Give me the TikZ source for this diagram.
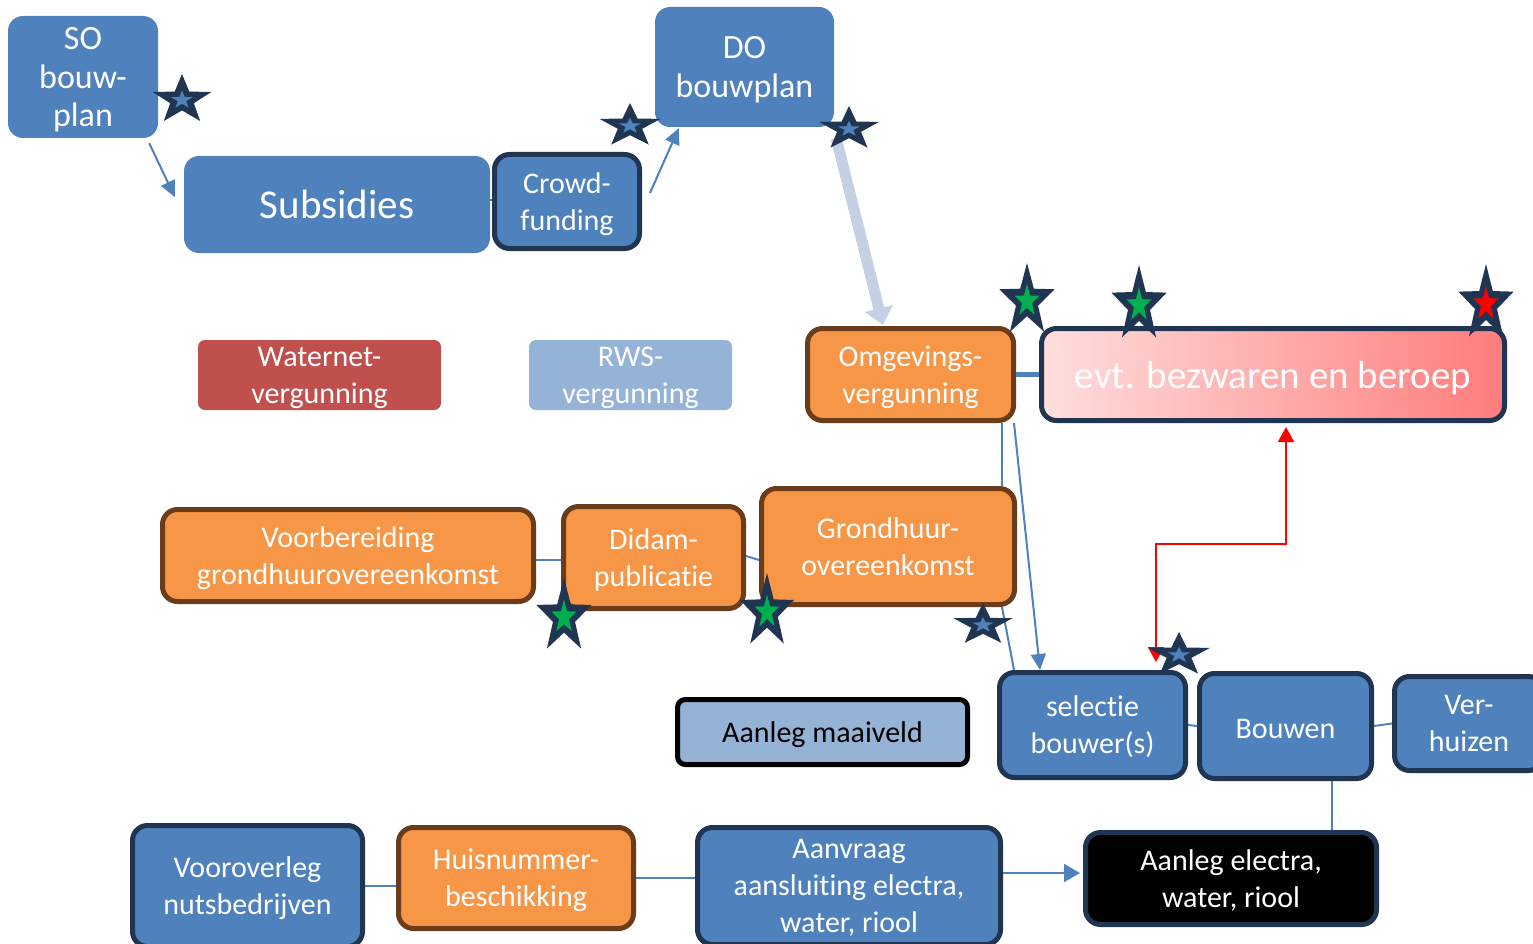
\documentclass[tikz,border=0pt]{standalone}
\usepackage{fontspec}
\setmainfont{Carlito}[Ligatures=NoCommon]
\usetikzlibrary{arrows.meta}
\definecolor{bxblue}{HTML}{4F81BD}
\definecolor{navy}{HTML}{1F3552}
\definecolor{orng}{HTML}{F79646}
\definecolor{brwn}{HTML}{6A3D1A}
\definecolor{wred}{HTML}{C0504D}
\definecolor{lblue}{HTML}{95B3D7}
\definecolor{thickarr}{HTML}{C6D0E4}
\definecolor{stgreen}{HTML}{00B050}
\definecolor{pinkL}{HTML}{FFDEDE}
\definecolor{pinkR}{HTML}{FF7C7C}
\tikzset{
 starp/.style={insert path={(90:1) -- (126:0.4) -- (162:1) -- (198:0.4) -- (234:1) -- (270:0.4) -- (306:1) -- (342:0.4) -- (18:1) -- (54:0.4) -- cycle}},
 base/.style={rounded corners=15pt, inner sep=0pt, align=center, text=white, text depth=0pt, font=\fontsize{30}{37}\selectfont},
 bluebox/.style={base, fill=bxblue},
 navybox/.style={base, fill=bxblue, draw=navy, line width=5pt},
 orangebox/.style={base, fill=orng, draw=brwn, line width=5pt},
 conn/.style={draw=bxblue, line width=2pt},
 tipA/.style={-{Triangle[length=16pt,width=15pt]}},
}
\newcommand\mystar[6]{\begin{scope}[shift={(#1,#2)},x=#3pt,y=#4pt]
 \fill[navy, starp];
 \begin{scope}[scale=#6]\fill[#5, starp];\end{scope}
\end{scope}}
\begin{document}
\begin{tikzpicture}[x=1pt,y=-1pt]
\useasboundingbox (0,0) rectangle (1533,944);
\fill[white] (0,0) rectangle (1533,944);
% nodes
\node[bluebox, minimum width=150pt, minimum height=122pt, font=\fontsize{34}{38.5}\selectfont] (so) at (83,77) {SO\\bouw-\\plan};
\node[bluebox, minimum width=306pt, minimum height=97pt, font=\fontsize{41}{49}\selectfont] (sub) at (337,204.5) {Subsidies};
\node[navybox, minimum width=145pt, minimum height=94pt] (crowd) at (567,201.5) {Crowd-\\funding};
\node[bluebox, minimum width=179pt, minimum height=120pt, font=\fontsize{34}{39}\selectfont] (do) at (744.5,67) {DO\\bouwplan};
\node[base, rounded corners=7pt, fill=wred, minimum width=243pt, minimum height=70pt] (water) at (319.5,375) {Waternet-\\vergunning};
\node[base, rounded corners=7pt, fill=lblue, minimum width=203pt, minimum height=70pt] (rws) at (630.5,375) {RWS-\\vergunning};
\node[orangebox, minimum width=206pt, minimum height=92pt] (omg) at (910.5,374.5) {Omgevings-\\vergunning};
\node[base, draw=navy, line width=5pt, left color=pinkL, right color=pinkR, minimum width=463pt, minimum height=92pt, font=\fontsize{39}{47}\selectfont] (evt) at (1273,374.5) {evt. bezwaren en beroep};
\node[orangebox, minimum width=371pt, minimum height=92pt] (voor) at (348,555.5) {Voorbereiding\\grondhuurovereenkomst};
\node[orangebox, minimum width=180pt, minimum height=102pt] (didam) at (653.5,557.5) {Didam-\\publicatie};
\node[orangebox, minimum width=253pt, minimum height=116pt] (grond) at (888,546.5) {Grondhuur-\\overeenkomst};
\node[base, rounded corners=8pt, fill=lblue, draw=black, line width=5pt, text=black, minimum width=290pt, minimum height=65pt] (maai) at (822.5,732) {Aanleg maaiveld};
\node[navybox, minimum width=186pt, minimum height=105pt] (sel) at (1092.5,725) {selectie\\bouwer(s)};
\node[navybox, minimum width=172pt, minimum height=105pt, text height=25pt] (bouw) at (1285.5,726) {Bouwen};
\node[navybox, minimum width=149pt, minimum height=94pt] (verh) at (1469,723.5) {Ver-\\huizen};
\node[navybox, minimum width=230pt, minimum height=121pt] (voov) at (247.5,886) {Vooroverleg\\nutsbedrijven};
\node[orangebox, minimum width=235pt, minimum height=101pt] (huis) at (516,878) {Huisnummer-\\beschikking};
\node[navybox, minimum width=303pt, minimum height=117pt] (aanv) at (849,886) {Aanvraag\\aansluiting electra,\\water, riool};
\node[base, fill=black, draw=navy, line width=5pt, minimum width=291pt, minimum height=92pt] (elec) at (1231,878.5) {Aanleg electra,\\water, riool};
% connectors
\coordinate (redmid) at (1220,544);
\draw[conn, tipA] ([shift={(-9pt,-5pt)}]so.south east) -- ([shift={(-9pt,7.5pt)}]sub.west);
\draw[conn] ([yshift=4pt]sub.east) -- ([yshift=4pt]sub.east -| crowd.west);
\draw[conn, tipA] ([shift={(8pt,8.5pt)}]crowd.east) -- ([shift={(24pt,-1pt)}]do.south west);
\draw[draw=thickarr, line width=11pt, -{Triangle[length=17pt,width=28pt]}] ([shift={(2pt,-11pt)}]do.south east) -- ([shift={(-27.5pt,1pt)}]omg.north);
\draw[draw=bxblue, line width=5pt] (omg.east) -- (evt.west);
\draw[conn] ([xshift=-14pt]omg.south east) -- ([xshift=-14pt]omg.south east |- grond.north);
\draw[conn, tipA] ([xshift=-2pt]omg.south east) -- ([xshift=43pt]sel.north west);
\draw[conn] ([xshift=-15pt]grond.south east) -- ([xshift=17pt]sel.north west);
\draw[conn] ([yshift=-4.5pt]voor.east) -- ([yshift=-4.5pt]voor.east -| didam.west);
\draw[conn] ([yshift=1.5pt]didam.east) -- ([yshift=-13.5pt]grond.west);
\draw[red, line width=2pt, {Triangle[length=15pt,width=16pt]}-{Triangle[length=15pt,width=16pt]}] ([shift={(13pt,-4pt)}]evt.south) |- (redmid) -| ([shift={(-32pt,8pt)}]sel.north east);
\draw[conn] (sel.east) -- (bouw.west);
\draw[conn] (bouw.east) -- (verh.west);
\draw[conn] ([xshift=46.5pt]bouw.south) -- ([xshift=46.5pt]bouw.south |- elec.north);
\draw[conn] (voov.east) -- (voov.east -| huis.west);
\draw[conn] (huis.east) -- (huis.east -| aanv.west);
\draw[conn, -{Triangle[length=16pt,width=18pt]}] ([yshift=13pt]aanv.east) -- ([shift={(-3pt,13pt)}]aanv.east -| elec.west);
% stars
\mystar{182}{100}{31}{26}{bxblue}{0.36}
\mystar{630}{126}{32}{23}{bxblue}{0.36}
\mystar{849}{129}{31.5}{23}{bxblue}{0.36}
\mystar{1027}{301}{29}{38}{stgreen}{0.45}
\mystar{1139}{305}{29}{40}{stgreen}{0.45}
\mystar{1486}{304}{29}{40}{red}{0.45}
\mystar{564}{617}{29}{39}{stgreen}{0.45}
\mystar{767}{612}{28.5}{39}{stgreen}{0.45}
\mystar{983}{625}{31}{22}{bxblue}{0.36}
\mystar{1179}{655}{32.5}{23}{bxblue}{0.36}
\end{tikzpicture}
\end{document}
